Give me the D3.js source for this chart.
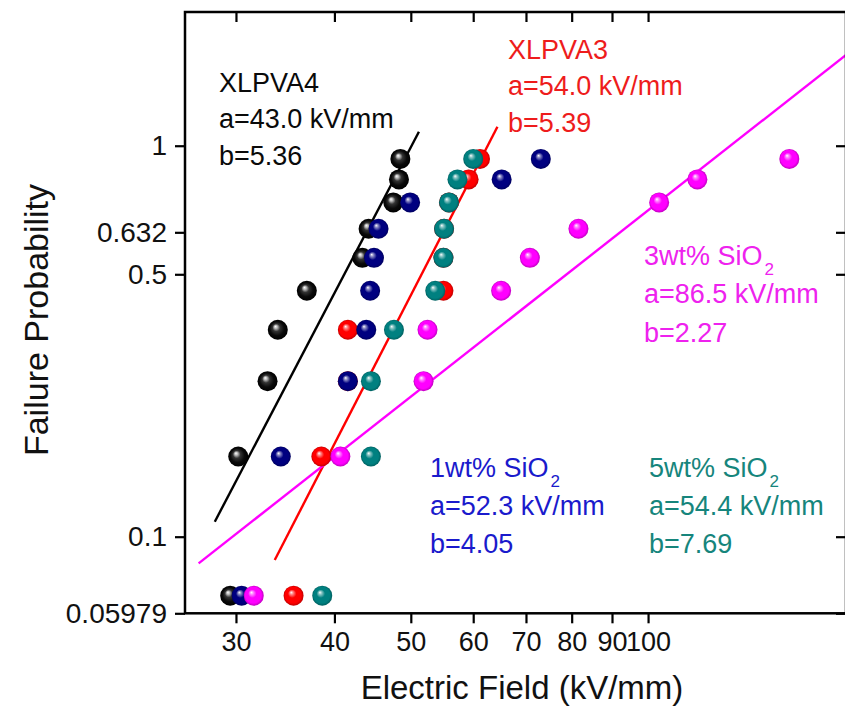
<!DOCTYPE html>
<html>
<head>
<meta charset="utf-8">
<script src="https://cdn.jsdelivr.net/npm/d3@7"></script>
<style>
  html, body { margin: 0; padding: 0; background: #fff; }
  svg { display: block; font-family: Arial, "Liberation Sans", sans-serif; }
</style>
</head>
<body>
<svg id="chart" width="845" height="708"></svg>
<script>
// ---------------- data ----------------
const xTickValues = [30, 40, 50, 60, 70, 80, 90, 100];
const yTickValues = [0.05979, 0.1, 0.5, 0.632, 1];
const yTickLabels = ["0.05979", "0.1", "0.5", "0.632", "1"];

// failure probability (median rank) of each of the 10 samples
const rankProb = [0.0673, 0.1635, 0.2596, 0.3558, 0.4519, 0.5481, 0.6442, 0.7404, 0.8365, 0.9327];

// breakdown field (kV/mm) for each series, ordered by rank
const fieldXLPVA4 = [29.5, 30.2, 32.9, 33.9, 36.9, 43.4, 44.2, 47.5, 48.3, 48.5];
const fieldXLPVA3 = [35.5, 38.5, 41.6, 41.6, 55.0, 55.0, 55.1, 55.9, 59.2, 61.2];
const fieldSiO2_1 = [30.5, 34.2, 41.6, 43.9, 44.4, 44.9, 45.5, 49.9, 65.2, 73.1];
const fieldSiO2_3 = [31.6, 40.7, 51.9, 52.5, 65.1, 70.8, 81.6, 103.3, 115.5, 151.1];
const fieldSiO2_5 = [38.6, 44.5, 44.5, 47.6, 53.7, 55.0, 55.1, 55.9, 57.3, 60.0];

// fitted Weibull lines: end points (field, probability-axis value)
const fitFieldXLPVA4 = [28.2, 51.2];
const fitProbXLPVA4  = [0.1096, 1.077];
const fitFieldXLPVA3 = [33.6, 64.4];
const fitProbXLPVA3  = [0.0855, 1.106];
const fitFieldSiO2_3 = [26.9, 178.3];
const fitProbSiO2_3  = [0.0836, 1.618];

const seriesNames = ["XLPVA4", "XLPVA3", "1wt% SiO2", "3wt% SiO2", "5wt% SiO2"];
const scaleA = ["43.0", "54.0", "52.3", "86.5", "54.4"];
const shapeB = ["5.36", "5.39", "4.05", "2.27", "7.69"];

// ---------------- layout ----------------
const W = 845, H = 708;
const plot = { left: 185, right: 846, top: 12, bottom: 613.3 };
const plotH = plot.bottom - plot.top;
// fractional heights of the probability ticks on this (custom) probability axis
const yTickFrac = [0, 0.1274, 0.5638, 0.6336, 0.7776];

const svg = d3.select("#chart");

const x = d3.scaleLog()
  .domain([25.85, 178.3])
  .range([plot.left, plot.right]);

const y = d3.scaleLog()
  .domain(yTickValues)
  .range(yTickFrac.map(f => plot.bottom - f * plotH));

const colors = {
  XLPVA4: "#000000",
  XLPVA3: "#ff0000",
  s1: "#000080",
  s3: "#ff00ff",
  s5: "#008080"
};
const textColors = {
  XLPVA4: "#0a0a0a",
  XLPVA3: "#ee1c1c",
  s1: "#1a1acc",
  s3: "#ee22ee",
  s5: "#16857c"
};

// ---------------- gradients (sphere markers) ----------------
const defs = svg.append("defs");
function makeGrad(id, base, isBlack) {
  const c = d3.color(base);
  const g = defs.append("radialGradient")
    .attr("id", id)
    .attr("cx", "50%").attr("cy", "50%").attr("r", "50%")
    .attr("fx", "38%").attr("fy", "33%");
  if (isBlack) {
    g.append("stop").attr("offset", "0%").attr("stop-color", "#ffffff");
    g.append("stop").attr("offset", "16%").attr("stop-color", "#bbbbbb");
    g.append("stop").attr("offset", "38%").attr("stop-color", "#333333");
    g.append("stop").attr("offset", "70%").attr("stop-color", "#0a0a0a");
    g.append("stop").attr("offset", "100%").attr("stop-color", "#000000");
  } else {
    g.append("stop").attr("offset", "0%").attr("stop-color", "#ffffff");
    g.append("stop").attr("offset", "16%").attr("stop-color", d3.interpolateRgb(base, "#ffffff")(0.55));
    g.append("stop").attr("offset", "42%").attr("stop-color", base);
    g.append("stop").attr("offset", "80%").attr("stop-color", base);
    g.append("stop").attr("offset", "100%").attr("stop-color", c.darker(0.8).formatHex());
  }
}
makeGrad("g4", colors.XLPVA4, true);
makeGrad("g3", colors.XLPVA3, false);
makeGrad("gs1", colors.s1, false);
makeGrad("gs3", colors.s3, false);
makeGrad("gs5", colors.s5, false);

defs.append("clipPath").attr("id", "plotClip")
  .append("rect")
  .attr("x", plot.left).attr("y", plot.top)
  .attr("width", plot.right - plot.left).attr("height", plot.bottom - plot.top);

// ---------------- fit lines ----------------
const lineGen = d3.line().x(d => x(d[0])).y(d => y(d[1]));
const fits = [
  { f: fitFieldXLPVA4, p: fitProbXLPVA4, c: colors.XLPVA4 },
  { f: fitFieldXLPVA3, p: fitProbXLPVA3, c: colors.XLPVA3 },
  { f: fitFieldSiO2_3, p: fitProbSiO2_3, c: colors.s3 }
];
const gl = svg.append("g").attr("clip-path", "url(#plotClip)");
fits.forEach(s => {
  gl.append("path")
    .datum(s.f.map((v, i) => [v, s.p[i]]))
    .attr("d", lineGen)
    .attr("fill", "none")
    .attr("stroke", s.c)
    .attr("stroke-width", 2.4);
});

// ---------------- markers ----------------
const markerSeries = [
  { vals: fieldXLPVA4, grad: "g4" },
  { vals: fieldXLPVA3, grad: "g3" },
  { vals: fieldSiO2_1, grad: "gs1" },
  { vals: fieldSiO2_3, grad: "gs3" },
  { vals: fieldSiO2_5, grad: "gs5" }
];
const gm = svg.append("g");
markerSeries.forEach(s => {
  gm.append("g").selectAll("circle")
    .data(s.vals.map((v, i) => [v, rankProb[i]]))
    .join("circle")
    .attr("cx", d => x(d[0]))
    .attr("cy", d => y(d[1]))
    .attr("r", 10)
    .attr("fill", `url(#${s.grad})`);
});

// ---------------- axes ----------------
const gx = svg.append("g")
  .attr("transform", `translate(0,${plot.bottom})`)
  .call(d3.axisBottom(x).tickValues(xTickValues).tickFormat(d3.format("d")).tickSize(10).tickPadding(9));
const gxt = svg.append("g")
  .attr("transform", `translate(0,${plot.top})`)
  .call(d3.axisTop(x).tickValues(xTickValues).tickFormat("").tickSize(-10));
const gy = svg.append("g")
  .attr("transform", `translate(${plot.left},0)`)
  .call(d3.axisLeft(y).tickValues(yTickValues).tickFormat((d, i) => yTickLabels[i]).tickSize(10).tickPadding(8));
const gyr = svg.append("g")
  .attr("transform", `translate(${plot.right},0)`)
  .call(d3.axisRight(y).tickValues(yTickValues).tickFormat("").tickSize(-10));

[gx, gxt, gy, gyr].forEach(g => {
  g.select(".domain").remove();
  g.selectAll(".tick line").attr("stroke", "#000").attr("stroke-width", 2.2);
  g.selectAll(".tick text")
    .attr("fill", "#111")
    .style("font-family", "Arial, 'Liberation Sans', sans-serif");
});
gx.selectAll(".tick text").style("font-size", "27px");
gy.selectAll(".tick text").style("font-size", "28px");

svg.append("rect")
  .attr("x", plot.left).attr("y", plot.top)
  .attr("width", plot.right - plot.left).attr("height", plot.bottom - plot.top)
  .attr("fill", "none").attr("stroke", "#000").attr("stroke-width", 2.5);

// axis titles
svg.append("text")
  .attr("x", 522)
  .attr("y", 699)
  .attr("text-anchor", "middle")
  .attr("fill", "#111")
  .style("font-size", "33px")
  .text("Electric Field (kV/mm)");

svg.append("text")
  .attr("transform", `translate(48,320) rotate(-90)`)
  .attr("text-anchor", "middle")
  .attr("fill", "#111")
  .style("font-size", "34px")
  .text("Failure Probability");

// ---------------- annotations ----------------
const annFont = 27;
const annotations = [
  { i: 0, c: textColors.XLPVA4, x: 219, y: 91.7, dy: 36.7 },
  { i: 1, c: textColors.XLPVA3, x: 508, y: 58.5, dy: 36.7 },
  { i: 2, c: textColors.s1, x: 430, y: 477.3, dy: 38 },
  { i: 3, c: textColors.s3, x: 644, y: 265, dy: 38.3 },
  { i: 4, c: textColors.s5, x: 649, y: 476.7, dy: 38.3 }
];
annotations.forEach(a => {
  const g = svg.append("g").attr("fill", a.c).style("font-size", annFont + "px");
  const name = seriesNames[a.i];
  const t1 = g.append("text").attr("x", a.x).attr("y", a.y);
  if (name.endsWith("SiO2")) {
    t1.append("tspan").text(name.slice(0, -1));
    t1.append("tspan").attr("dx", 2).attr("dy", 10).style("font-size", "17px").text("2");
  } else {
    t1.text(name);
  }
  g.append("text").attr("x", a.x).attr("y", a.y + a.dy).text(`a=${scaleA[a.i]} kV/mm`);
  g.append("text").attr("x", a.x).attr("y", a.y + 2 * a.dy).text(`b=${shapeB[a.i]}`);
});
</script>
</body>
</html>
